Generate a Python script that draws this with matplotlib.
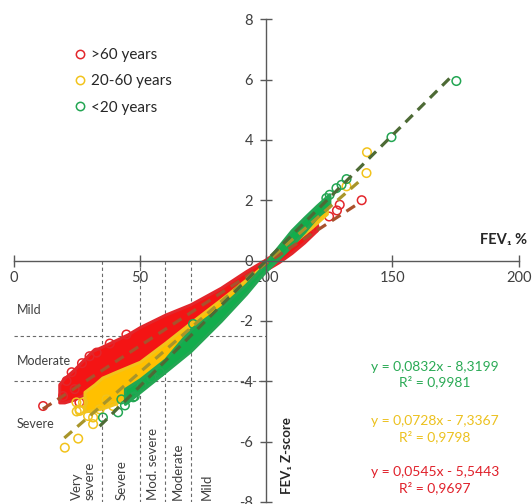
"""FEV1 % vs FEV1 Z-score by age group, with linear trends."""

import matplotlib

matplotlib.use("Agg")
from matplotlib import pyplot as plt  # noqa: E402
from matplotlib.lines import Line2D  # noqa: E402

plt.rcParams["font.family"] = ["Lato", "DejaVu Sans"]

# dense point clouds, read as upper/lower envelopes
red_band_x = [18, 20, 24, 31, 35, 45, 50, 60, 70, 82, 92, 97, 100, 105, 110, 115, 120]
red_band_upper = [-4.1, -3.9, -3.6, -3.0, -2.85, -2.45, -2.2, -1.79, -1.45, -0.9, -0.35, -0.1, 0.05, 0.35, 0.7, 1.0, 1.25]
red_band_lower = [-4.7, -4.7, -4.6, -4.3, -4.1, -3.8, -3.6, -3.0, -2.3, -1.5, -0.8, -0.45, -0.3, -0.05, 0.25, 0.6, 1.0]

yellow_band_x = [28, 32, 35, 40, 50, 60, 70, 82, 92, 97, 100, 105, 110, 118, 124]
yellow_band_upper = [-4.35, -4.1, -3.88, -3.7, -3.35, -2.72, -2.06, -1.29, -0.63, -0.3, -0.05, 0.35, 0.8, 1.4, 1.85]
yellow_band_lower = [-5.0, -4.95, -4.9, -4.75, -4.25, -3.58, -2.88, -1.88, -1.0, -0.52, -0.28, 0.15, 0.55, 1.1, 1.55]

green_band_x = [44, 50, 60, 70, 82, 92, 97, 100, 105, 110, 115, 120, 125]
green_band_upper = [-4.25, -3.93, -3.27, -2.28, -1.55, -0.79, -0.35, -0.05, 0.48, 1.0, 1.42, 1.82, 2.2]
green_band_lower = [-4.75, -4.35, -3.68, -3.0, -2.0, -1.1, -0.6, -0.33, 0.08, 0.5, 0.95, 1.45, 1.8]

# individual points outside the clouds
red_pts_x = [11.6, 19.5, 20.9, 22.9, 24.1, 26.0, 27.0, 30.0, 32.8, 38.0, 44.6,
             117.2, 119.2, 124.9, 128.0, 129.1, 137.8]
red_pts_y = [-4.82, -4.49, -3.99, -3.70, -4.26, -4.70, -3.40, -3.17, -3.05, -2.75, -2.45,
             0.97, 1.08, 1.46, 1.66, 1.85, 2.00]
yellow_pts_x = [20.2, 24.8, 24.9, 25.5, 26.0, 26.1, 27.4, 29.4, 31.4, 31.4, 34.0, 36.7, 39.3,
                131.8, 139.7, 139.9]
yellow_pts_y = [-6.20, -4.70, -5.00, -5.90, -4.93, -4.98, -4.70, -5.15, -5.42, -5.20, -4.93, -4.60, -4.82,
                2.46, 2.90, 3.59]
green_pts_x = [35.3, 41.3, 42.6, 44.0, 47.3, 47.9, 50.6, 54.5, 57.8, 71.0,
               123.8, 125.1, 127.8, 129.8, 131.8, 149.6, 175.3]
green_pts_y = [-5.20, -5.03, -4.60, -4.80, -4.53, -4.50, -4.15, -3.88, -3.70, -2.10,
               2.07, 2.18, 2.40, 2.51, 2.70, 4.09, 5.95]

# trend line end points
red_trend_x = [11.5, 137]
red_trend_y = [-4.92, 1.92]
yellow_trend_x = [20, 138]
yellow_trend_y = [-5.88, 2.71]
green_trend_x = [34, 173]
green_trend_y = [-5.49, 6.07]

group_labels = [">60 years", "20-60 years", "<20 years"]
equations = [
    "y = 0,0545x - 5,5443\nR² = 0,9697",
    "y = 0,0728x - 7,3367\nR² = 0,9798",
    "y = 0,0832x - 8,3199\nR² = 0,9981",
]
equation_y = [-7.28, -5.58, -3.77]

x_ticks = [0, 50, 100, 150, 200]
y_ticks = [-8, -6, -4, -2, 0, 2, 4, 6, 8]
zscore_cuts = [-2.5, -4]
fev_cuts = [35, 50, 60, 70]
zscore_labels = ["Mild", "Moderate", "Severe"]
zscore_label_y = [-1.65, -3.34, -5.42]
fev_labels = ["Very\nsevere", "Severe", "Mod. severe", "Moderate", "Mild"]
fev_label_x = [27.6, 42.8, 55.0, 65.0, 76.4]

fill_colors = ["#f41414", "#ffc000", "#12ad4c"]
marker_colors = ["#e3262b", "#f2c31c", "#23a653"]
trend_colors = ["#a9512c", "#a8952a", "#4d6a35"]
text_colors = ["#e0202a", "#ecc11e", "#2aaa55"]
gray = "#404040"

fig = plt.figure(figsize=(5.32, 5.04), dpi=100)
ax = fig.add_axes([0.026, 0.004, 0.949, 0.958])
ax.set_xlim(0, 200)
ax.set_ylim(-8, 8)

for y in zscore_cuts:
    ax.plot([0, 100], [y, y], color="#6a6a6a", lw=0.8, ls=(0, (3, 2.5)), zorder=1)
for x in fev_cuts:
    ax.plot([x, x], [0, -8], color="#6a6a6a", lw=0.8, ls=(0, (3, 2.5)), zorder=1)

bands = [
    (red_band_x, red_band_lower, red_band_upper),
    (yellow_band_x, yellow_band_lower, yellow_band_upper),
    (green_band_x, green_band_lower, green_band_upper),
]
points = [(red_pts_x, red_pts_y), (yellow_pts_x, yellow_pts_y), (green_pts_x, green_pts_y)]
trends = [(red_trend_x, red_trend_y), (yellow_trend_x, yellow_trend_y), (green_trend_x, green_trend_y)]

for i, (bx, lo, hi) in enumerate(bands):
    ax.fill_between(bx, lo, hi, facecolor=fill_colors[i], lw=2.2, edgecolor=marker_colors[i],
                    joinstyle="round", zorder=2 + i)
    px, py = points[i]
    ax.scatter(px, py, s=38, facecolors="none", edgecolors=marker_colors[i], lw=1.1, zorder=2 + i)

for i, (tx, ty) in enumerate(trends):
    ax.plot(tx, ty, color=trend_colors[i], lw=2.3, dashes=(3.2, 2.2), zorder=6)

ax.spines["left"].set_position(("data", 100))
ax.spines["bottom"].set_position(("data", 0))
ax.spines["top"].set_visible(False)
ax.spines["right"].set_visible(False)
for side in ("left", "bottom"):
    ax.spines[side].set_color("#595959")
    ax.spines[side].set_linewidth(1.0)
    ax.spines[side].set_zorder(7)
ax.set_xticks(x_ticks)
ax.set_yticks(y_ticks)
ax.set_xticklabels([str(v) for v in x_ticks])
ax.set_yticklabels([str(v) for v in y_ticks])
ax.tick_params(direction="inout", length=9, width=1.0, color="#595959", labelsize=10.5, labelcolor=gray)
ax.tick_params(axis="y", pad=5)
ax.tick_params(axis="x", pad=3)

for label, y in zip(zscore_labels, zscore_label_y):
    ax.text(1.3, y, label, fontsize=9, color=gray, va="center", ha="left")
for label, x in zip(fev_labels, fev_label_x):
    ax.text(x, -7.92, label, fontsize=9.5, color=gray, rotation=90, ha="center", va="bottom",
            multialignment="left", linespacing=1.05)

for i, text in enumerate(equations):
    ax.text(166.7, equation_y[i], text, fontsize=10, color=text_colors[i], ha="center", va="center",
            linespacing=1.25)

ax.text(203.5, 0.45, "FEV₁ %", fontsize=10.5, fontweight="bold", color="#262626", ha="right", va="bottom",
        clip_on=False)
ax.text(108.3, -7.75, "FEV₁ Z-score", fontsize=9.5, fontweight="bold", color="#262626", rotation=90,
        ha="center", va="bottom")

handles = [
    Line2D([], [], ls="none", marker="o", markersize=6, markerfacecolor="none", markeredgecolor=c, markeredgewidth=1.1)
    for c in marker_colors
]
ax.legend(handles, group_labels, loc="upper left", bbox_to_anchor=(0.118, 0.94), frameon=False, fontsize=11,
          handlelength=0.8, handletextpad=0.35, labelspacing=0.8, borderpad=0, borderaxespad=0,
          labelcolor="#262626")

fig.savefig("out.png", dpi=100)
